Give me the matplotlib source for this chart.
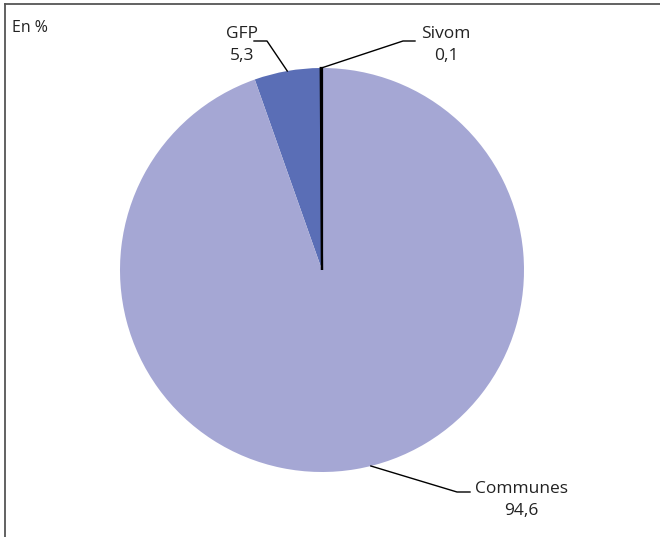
import numpy as np
import matplotlib.pyplot as plt
from matplotlib.lines import Line2D

labels = ["Sivom", "GFP", "Communes"]
values = [0.1, 5.3, 94.6]
value_labels = ["0,1", "5,3", "94,6"]
colors = ["#111111", "#5a6eb6", "#a5a7d4"]

plt.rcParams['font.family'] = ['Open Sans', 'DejaVu Sans']

fig = plt.figure(figsize=(6.6, 5.37), dpi=100)
ax = fig.add_axes([0, 0, 1, 1])

cx, cy, r = 322, 267, 202  # pie centre / radius in pixels
wedges, _ = ax.pie(values, colors=colors, startangle=90, counterclock=True,
                   center=(cx, cy), radius=r, frame=True)
ax.set_xlim(0, 660)
ax.set_ylim(0, 537)
ax.axis("off")
# tiny Sivom slice shows as a black line, keep it on top
wedges[0].set_edgecolor("#000000")
wedges[0].set_linewidth(1.6)
wedges[0].set_zorder(5)

# leader lines: anchor angle on the rim, elbow point, end of the short flat bit, text position
mids = [(w.theta1 + w.theta2) / 2 for w in wedges]
anchor_ang = [mids[0], mids[1], -76]
elbows = [(403, 496), (267, 496), (457, 45)]
ends = [(415, 496), (254, 496), (470, 45)]
text_pos = [(446, 492), (242, 492), (521, 37)]

for i in range(3):
    a = np.deg2rad(anchor_ang[i])
    x0, y0 = cx + r * np.cos(a), cy + r * np.sin(a)
    ax.add_line(Line2D([x0, elbows[i][0], ends[i][0]], [y0, elbows[i][1], ends[i][1]],
                       color="black", lw=1.0))
    ax.text(text_pos[i][0], text_pos[i][1], labels[i] + "\n" + value_labels[i],
            ha="center", va="center", fontsize=12.5, color="#222222", linespacing=1.5)

ax.text(12, 509, "En %", ha="left", va="center", fontsize=11.5, color="#222222")

# frame (top and left edges only are visible)
fig.add_artist(Line2D([4.5 / 660, 1], [1 - 3.5 / 537, 1 - 3.5 / 537], color="#555555", lw=1.3))
fig.add_artist(Line2D([4.5 / 660, 4.5 / 660], [0, 1 - 3.5 / 537], color="#555555", lw=1.3))

fig.savefig("out.png", dpi=100)
